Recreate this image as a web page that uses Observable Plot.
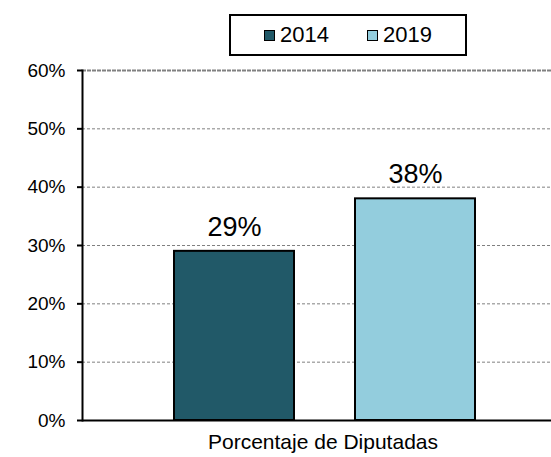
<!DOCTYPE html>
<html>
<head>
<meta charset="utf-8">
<script src="https://cdn.jsdelivr.net/npm/d3@7"></script>
<script src="https://cdn.jsdelivr.net/npm/@observablehq/plot@0.6"></script>
<style>
  html, body { margin: 0; padding: 0; background: #fff; }
  body { font-family: "Liberation Sans", Arial, sans-serif; }
  #wrap { position: relative; width: 551px; height: 457px; }
  #legend {
    position: absolute; left: 229px; top: 14px; width: 234px; height: 38px;
    border: 2px solid #000; background: #fff; z-index: 2;
    display: flex; align-items: center; justify-content: center; gap: 38px;
    font-size: 22px; color: #000;
  }
  #legend .item { display: flex; align-items: center; gap: 5px; }
  #legend .sw { width: 9px; height: 9px; border: 1.5px solid #000; display: inline-block; }
</style>
</head>
<body>
<div id="wrap"></div>
<script>
const years = ["2014", "2019"];
const values = [0.29, 0.38];
const colors = ["#215968", "#93CDDD"];
const category = "Porcentaje de Diputadas";
const yTicks = [0, 0.1, 0.2, 0.3, 0.4, 0.5, 0.6];

const data = years.map((year, i) => ({year, value: values[i]}));
const pct = d => Math.round(d * 100) + "%";

const wrap = document.getElementById("wrap");

const legend = document.createElement("div");
legend.id = "legend";
years.forEach((y, i) => {
  const item = document.createElement("span");
  item.className = "item";
  const sw = document.createElement("span");
  sw.className = "sw";
  sw.style.background = colors[i];
  const t = document.createElement("span");
  t.textContent = y;
  item.appendChild(sw);
  item.appendChild(t);
  legend.appendChild(item);
});
wrap.appendChild(legend);

const chart = Plot.plot({
  width: 551,
  height: 457,
  marginTop: 70,
  marginBottom: 37,
  marginLeft: 82,
  marginRight: 0,
  style: {fontFamily: "'Liberation Sans', Arial, sans-serif", color: "#000", background: "#fff", overflow: "visible"},
  x: {domain: years, paddingInner: 0.337, paddingOuter: 0.464, align: 0.55, axis: null},
  y: {domain: [0, 0.6], axis: null},
  color: {domain: years, range: colors},
  marks: [
    Plot.ruleY(yTicks.filter(d => d > 0 && d < 0.6), {stroke: "#808080", strokeDasharray: "3,2", strokeWidth: 1}),
    Plot.ruleY(yTicks.filter(d => d === 0.6), {stroke: "#808080", strokeDasharray: "4,1", strokeWidth: 2}),
    Plot.barY(data, {x: "year", y: "value", fill: "year", stroke: "#000", strokeWidth: 2}),
    Plot.text(data, {x: "year", y: "value", text: d => pct(d.value), dy: -24, fontSize: 27, fill: "#000"}),
    Plot.axisY({ticks: yTicks, tickFormat: () => "", tickSize: 5, label: null, strokeWidth: 2}),
    Plot.text(yTicks, {y: d => d, text: pct, frameAnchor: "left", textAnchor: "end", dx: -17, fontSize: 19, fill: "#000"}),
    Plot.ruleY([0], {stroke: "#000", strokeWidth: 2}),
    Plot.frame({anchor: "left", stroke: "#000", strokeWidth: 2}),
    Plot.text([category], {frameAnchor: "bottom", lineAnchor: "middle", dy: 22, dx: 6, fontSize: 21, fill: "#000"})
  ]
});
wrap.appendChild(chart);
</script>
</body>
</html>
